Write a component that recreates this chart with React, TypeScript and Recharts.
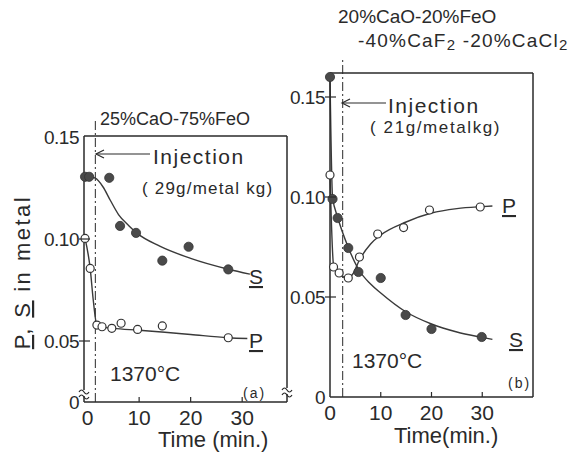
import React from 'react';
import {
  ComposedChart,
  Line,
  Scatter,
  XAxis,
  YAxis,
  ReferenceLine,
  ReferenceDot,
} from 'recharts';

const FONT = '"Liberation Sans", Arial, Helvetica, sans-serif';
const INK = '#2a2a2a';
const CURVE = '#3a3a3a';

// shared axis ticks
const timeTicks = [0, 10, 20, 30];
const innerTimeTicks = [10, 20, 30];
const aLevelTicks = [0.02, 0.05, 0.1, 0.15]; // 0.02 is the broken-axis "0"
const bLevelTicks = [0, 0.05, 0.1, 0.15];

// (a) 25%CaO-75%FeO, 29 g/metal kg
const aInjection = 1.5;
const aSulfurPts = [
  { x: -0.5, y: 0.1305 },
  { x: 0.3, y: 0.1305 },
  { x: 4.2, y: 0.13 },
  { x: 6.3, y: 0.1064 },
  { x: 9.4, y: 0.103 },
  { x: 14.5, y: 0.0894 },
  { x: 19.6, y: 0.0962 },
  { x: 27.3, y: 0.0851 },
];
const aPhosPts = [
  { x: -0.5, y: 0.1003 },
  { x: 0.5, y: 0.0856 },
  { x: 1.8, y: 0.0578 },
  { x: 2.8, y: 0.057 },
  { x: 4.7, y: 0.0562 },
  { x: 6.5, y: 0.0587 },
  { x: 9.7, y: 0.0557 },
  { x: 14.5, y: 0.0574 },
  { x: 27.3, y: 0.0516 },
];
const aSulfurCurve = [
  { x: 0.3, y: 0.1305 },
  { x: 1.5, y: 0.1298 },
  { x: 3, y: 0.1255 },
  { x: 4.4, y: 0.119 },
  { x: 6, y: 0.112 },
  { x: 8, y: 0.1065 },
  { x: 9.5, y: 0.103 },
  { x: 14, y: 0.0965 },
  { x: 20, y: 0.0905 },
  { x: 27.3, y: 0.0852 },
  { x: 31.5, y: 0.0828 },
];
const aPhosCurve = [
  { x: -0.5, y: 0.1003 },
  { x: 0.5, y: 0.0856 },
  { x: 1.1, y: 0.07 },
  { x: 1.8, y: 0.0578 },
  { x: 3, y: 0.0568 },
  { x: 5, y: 0.0562 },
  { x: 10, y: 0.0553 },
  { x: 15, y: 0.0543 },
  { x: 20, y: 0.0532 },
  { x: 27.3, y: 0.0516 },
  { x: 31, y: 0.0512 },
];

// (b) 20%CaO-20%FeO-40%CaF2-20%CaCl2, 21 g/metal kg
const bInjection = 2.5;
const bSulfurPts = [
  { x: 0, y: 0.16 },
  { x: 0.5, y: 0.099 },
  { x: 1.5, y: 0.0895 },
  { x: 3.6, y: 0.0745 },
  { x: 5.6, y: 0.0625 },
  { x: 10, y: 0.0595 },
  { x: 14.9, y: 0.041 },
  { x: 20, y: 0.034 },
  { x: 29.9, y: 0.03 },
];
const bPhosPts = [
  { x: 0, y: 0.111 },
  { x: 0.7, y: 0.065 },
  { x: 1.8, y: 0.062 },
  { x: 3.6, y: 0.0595 },
  { x: 5.8, y: 0.07 },
  { x: 9.4, y: 0.0815 },
  { x: 14.5, y: 0.0847 },
  { x: 19.6, y: 0.0935 },
  { x: 29.6, y: 0.095 },
];
const bSulfurCurve = [
  { x: 0, y: 0.16 },
  { x: 0.5, y: 0.1 },
  { x: 1.5, y: 0.09 },
  { x: 3.6, y: 0.0748 },
  { x: 5.7, y: 0.0635 },
  { x: 8, y: 0.0565 },
  { x: 10, y: 0.052 },
  { x: 15, y: 0.0425 },
  { x: 20, y: 0.0365 },
  { x: 25, y: 0.0325 },
  { x: 30, y: 0.0298 },
  { x: 32, y: 0.0288 },
];
const bPhosCurve = [
  { x: 0, y: 0.111 },
  { x: 0.7, y: 0.066 },
  { x: 1.8, y: 0.0615 },
  { x: 3.5, y: 0.0595 },
  { x: 4.5, y: 0.0615 },
  { x: 5.8, y: 0.0685 },
  { x: 8, y: 0.0765 },
  { x: 10, y: 0.081 },
  { x: 15, y: 0.0875 },
  { x: 20, y: 0.092 },
  { x: 25, y: 0.0942 },
  { x: 30, y: 0.0952 },
  { x: 32, y: 0.0955 },
];

const fmtLevel = (v: number) => (v <= 0.021 ? '0' : v.toFixed(2));

const BottomTick = (props: any) => {
  const { x, y, payload } = props;
  return (
    <g>
      {payload.value !== 0 && (
        <line x1={x} x2={x} y1={y} y2={y - 5} stroke={INK} strokeWidth={1.2} />
      )}
      <text x={x} y={y + 23} textAnchor="middle" fontSize={21} fill={INK} fontFamily={FONT}>
        {payload.value}
      </text>
    </g>
  );
};

const TopTick = (props: any) => {
  const { x, y } = props;
  return <line x1={x} x2={x} y1={y} y2={y + 6} stroke={INK} strokeWidth={1.2} />;
};

const LeftTick = (props: any) => {
  const { x, y, payload, lineAt } = props;
  const showLine = lineAt.includes(payload.value);
  return (
    <g>
      {showLine && <line x1={x - 5} x2={x + 6} y1={y} y2={y} stroke={INK} strokeWidth={1.2} />}
      <text
        x={x - 5}
        y={y + 7}
        textAnchor="end"
        fontSize={19}
        fill={INK}
        fontFamily={FONT}
        letterSpacing={-0.5}
      >
        {fmtLevel(payload.value)}
      </text>
    </g>
  );
};

const RightTick = (props: any) => {
  const { x, y, payload, lineAt } = props;
  if (!lineAt.includes(payload.value)) return <g />;
  return <line x1={x} x2={x - 6} y1={y} y2={y} stroke={INK} strokeWidth={1.2} />;
};

const FilledDot = (props: any) => {
  const { cx, cy } = props;
  return <circle cx={cx} cy={cy} r={4.6} fill="#4a4a4a" stroke="#333" strokeWidth={0.8} />;
};

const OpenDot = (props: any) => {
  const { cx, cy } = props;
  return <circle cx={cx} cy={cy} r={4} fill="#fff" stroke="#333" strokeWidth={1.2} />;
};

const BreakMark = (props: any) => {
  const { cx, cy } = props;
  return (
    <g stroke={INK} strokeWidth={1.2} fill="none">
      <rect x={cx - 2} y={cy - 3} width={4} height={6} fill="#fff" stroke="none" />
      <path d={`M${cx - 5},${cy - 1} q2.5,-4 5,0 t5,0`} />
      <path d={`M${cx - 5},${cy + 4} q2.5,-4 5,0 t5,0`} />
    </g>
  );
};

const axisStroke = { stroke: INK, strokeWidth: 1.5 };

// plot box edges in page pixels -> chart margins (axes take 1px each)
const marginFor = (left: number, top: number, right: number, bottom: number) => ({
  left: left - 1,
  top: top - 1,
  right: 572 - right - 1,
  bottom: 452 - bottom - 1,
});

const Panel = ({
  margin,
  xDomain,
  yDomain,
  yTicks,
  leftLines,
  rightLines,
  injection,
  injectionTop,
  sulfurCurve,
  phosCurve,
  sulfurPts,
  phosPts,
  broken,
}: any) => (
  <div style={{ position: 'absolute', left: 0, top: 0 }}>
    <ComposedChart width={572} height={452} margin={margin}>
      <XAxis
        xAxisId={0}
        dataKey="x"
        type="number"
        domain={xDomain}
        ticks={timeTicks}
        height={1}
        tickSize={0}
        tickMargin={0}
        tickLine={false}
        axisLine={axisStroke}
        tick={<BottomTick />}
        interval={0}
      />
      <XAxis
        xAxisId="top"
        orientation="top"
        type="number"
        domain={xDomain}
        ticks={innerTimeTicks}
        height={1}
        tickSize={0}
        tickMargin={0}
        tickLine={false}
        axisLine={axisStroke}
        tick={<TopTick />}
        interval={0}
      />
      <YAxis
        yAxisId={0}
        dataKey="y"
        type="number"
        domain={yDomain}
        ticks={yTicks}
        width={1}
        tickSize={0}
        tickMargin={0}
        tickLine={false}
        axisLine={axisStroke}
        tick={<LeftTick lineAt={leftLines} />}
        interval={0}
      />
      <YAxis
        yAxisId="r"
        orientation="right"
        type="number"
        domain={yDomain}
        ticks={yTicks}
        width={1}
        tickSize={0}
        tickMargin={0}
        tickLine={false}
        axisLine={axisStroke}
        tick={<RightTick lineAt={rightLines} />}
        interval={0}
      />
      <ReferenceLine
        segment={[
          { x: injection, y: yDomain[0] },
          { x: injection, y: injectionTop },
        ]}
        stroke={INK}
        strokeWidth={1}
        strokeDasharray="9 3 2 3"
        ifOverflow="visible"
      />
      <Line
        data={sulfurCurve}
        dataKey="y"
        type="monotone"
        dot={false}
        stroke={CURVE}
        strokeWidth={1.4}
        isAnimationActive={false}
      />
      <Line
        data={phosCurve}
        dataKey="y"
        type="monotone"
        dot={false}
        stroke={CURVE}
        strokeWidth={1.4}
        isAnimationActive={false}
      />
      <Scatter data={phosPts} dataKey="y" shape={<OpenDot />} isAnimationActive={false} />
      <Scatter data={sulfurPts} dataKey="y" shape={<FilledDot />} isAnimationActive={false} />
      {broken && (
        <ReferenceDot x={xDomain[0]} y={0.0245} ifOverflow="visible" shape={<BreakMark />} />
      )}
      {broken && (
        <ReferenceDot x={xDomain[1]} y={0.0255} ifOverflow="visible" shape={<BreakMark />} />
      )}
    </ComposedChart>
  </div>
);

const txt = { fontFamily: FONT, fill: INK };

const Annotations = () => (
  <svg
    width={572}
    height={452}
    style={{ position: 'absolute', left: 0, top: 0, pointerEvents: 'none' }}
  >
    {/* common y label */}
    <text
      x={30}
      y={272}
      textAnchor="middle"
      fontSize={22}
      letterSpacing={2.5}
      transform="rotate(-90 30 272)"
      {...txt}
    >
      <tspan textDecoration="underline">P</tspan>, <tspan textDecoration="underline">S</tspan> in
      metal
    </text>

    {/* panel (a) */}
    <text x={100} y={125} fontSize={18} {...txt}>25%CaO-75%FeO</text>
    <line x1={96} y1={154} x2={150} y2={154} stroke={INK} strokeWidth={1.2} />
    <path d="M104,150 L96,154 L104,158" fill="none" stroke={INK} strokeWidth={1.2} />
    <text x={153} y={164} fontSize={21} letterSpacing={1.5} {...txt}>Injection</text>
    <text x={142} y={194} fontSize={17} letterSpacing={1.2} {...txt}>( 29g/metal kg)</text>
    <text x={110} y={381} fontSize={21} {...txt}>1370°C</text>
    <text x={243} y={398} fontSize={14} letterSpacing={2} {...txt}>(a)</text>
    <text x={249} y={284} fontSize={21} textDecoration="underline" {...txt}>S</text>
    <text x={249} y={348} fontSize={21} textDecoration="underline" {...txt}>P</text>
    <text x={158} y={447} fontSize={22} {...txt}>Time (min.)</text>

    {/* panel (b) */}
    <text x={338} y={23} fontSize={19} {...txt}>20%CaO-20%FeO</text>
    <text x={358} y={47} fontSize={19} letterSpacing={1.2} {...txt}>
      -40%CaF<tspan fontSize={15} dy={3}>2</tspan>
      <tspan dy={-3}> -20%CaCl</tspan>
      <tspan fontSize={15} dy={3}>2</tspan>
    </text>
    <line x1={342} y1={103} x2={386} y2={103} stroke={INK} strokeWidth={1.2} />
    <path d="M350,99 L342,103 L350,107" fill="none" stroke={INK} strokeWidth={1.2} />
    <text x={388} y={113} fontSize={21} letterSpacing={1.5} {...txt}>Injection</text>
    <text x={370} y={133} fontSize={17} letterSpacing={1.6} {...txt}>( 21g/metalkg)</text>
    <text x={352} y={368} fontSize={21} {...txt}>1370°C</text>
    <text x={508} y={388} fontSize={14} letterSpacing={2} {...txt}>(b)</text>
    <text x={502} y={213} fontSize={21} textDecoration="underline" {...txt}>P</text>
    <text x={509} y={347} fontSize={21} textDecoration="underline" {...txt}>S</text>
    <text x={394} y={443} fontSize={22} {...txt}>Time(min.)</text>
  </svg>
);

export default function App() {
  return (
    <div
      style={{
        position: 'absolute',
        left: 0,
        top: 0,
        width: 572,
        height: 452,
        background: '#fff',
        overflow: 'hidden',
      }}
    >
      <Panel
        margin={marginFor(84, 136, 287, 402)}
        xDomain={[-0.7, 38.7]}
        yDomain={[0.0201, 0.1505]}
        yTicks={aLevelTicks}
        leftLines={[0.1, 0.05]}
        rightLines={[0.1, 0.05]}
        injection={aInjection}
        injectionTop={0.158}
        sulfurCurve={aSulfurCurve}
        phosCurve={aPhosCurve}
        sulfurPts={aSulfurPts}
        phosPts={aPhosPts}
        broken
      />
      <Panel
        margin={marginFor(330, 73, 533, 397)}
        xDomain={[0, 40]}
        yDomain={[0, 0.162]}
        yTicks={bLevelTicks}
        leftLines={[0.15, 0.1, 0.05]}
        rightLines={[0.15, 0.1, 0.05]}
        injection={bInjection}
        injectionTop={0.1685}
        sulfurCurve={bSulfurCurve}
        phosCurve={bPhosCurve}
        sulfurPts={bSulfurPts}
        phosPts={bPhosPts}
        broken={false}
      />
      <Annotations />
    </div>
  );
}
